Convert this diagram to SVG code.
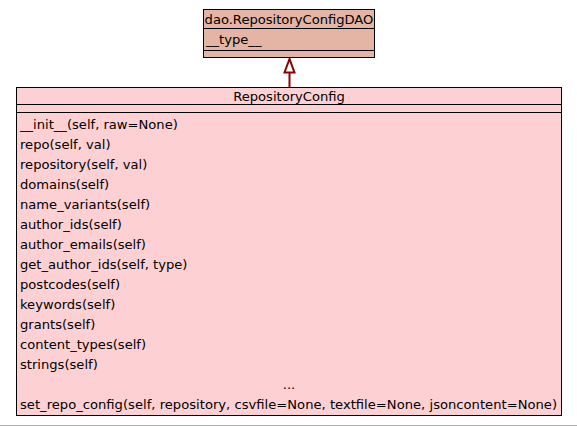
<svg xmlns="http://www.w3.org/2000/svg" width="577" height="427" viewBox="0 0 577 427">
<style>
text{font-family:"DejaVu Sans",sans-serif;font-size:13.1px;fill:#000}
.box{stroke:#000;stroke-width:1}
.sep{stroke:#000;stroke-width:1}
.edge{stroke:#8b0000;stroke-width:2;fill:none}
</style>
<rect x="0" y="0" width="577" height="427" fill="#ffffff"/>
<line x1="0" y1="425.5" x2="577" y2="425.5" stroke="#b0b0b0" stroke-width="1"/>
<g id="connectors">
<line class="edge" x1="289.5" y1="73" x2="289.5" y2="87"/>
<polygon points="289.5,59 284.5,72.5 294.5,72.5" fill="#ffffff" stroke="#8b0000" stroke-width="2"/>
</g>
<g id="RepositoryConfigDAO">
<rect class="box" x="203.5" y="9.5" width="171" height="48" fill="#e4b4a4"/>
<line class="sep" x1="203.5" y1="28.5" x2="374.5" y2="28.5"/>
<line class="sep" x1="203.5" y1="50.5" x2="374.5" y2="50.5"/>
<text x="289" y="24" text-anchor="middle">dao.RepositoryConfigDAO</text>
<text x="206" y="44">__type__</text>
</g>
<g id="RepositoryConfig">
<rect class="box" x="16.5" y="87.5" width="545" height="328" fill="#fdd1d3"/>
<line class="sep" x1="16.5" y1="104.5" x2="561.5" y2="104.5"/>
<line class="sep" x1="16.5" y1="112.5" x2="561.5" y2="112.5"/>
<text x="289" y="101" text-anchor="middle">RepositoryConfig</text>
<text x="20" y="129">__init__(self, raw=None)</text>
<text x="20" y="149">repo(self, val)</text>
<text x="20" y="169">repository(self, val)</text>
<text x="20" y="189">domains(self)</text>
<text x="20" y="209">name_variants(self)</text>
<text x="20" y="229">author_ids(self)</text>
<text x="20" y="249">author_emails(self)</text>
<text x="20" y="269">get_author_ids(self, type)</text>
<text x="20" y="289">postcodes(self)</text>
<text x="20" y="309">keywords(self)</text>
<text x="20" y="329">grants(self)</text>
<text x="20" y="349">content_types(self)</text>
<text x="20" y="369">strings(self)</text>
<text x="289" y="389" text-anchor="middle">...</text>
<text x="20" y="409" textLength="537" lengthAdjust="spacing">set_repo_config(self, repository, csvfile=None, textfile=None, jsoncontent=None)</text>
</g>
</svg>
